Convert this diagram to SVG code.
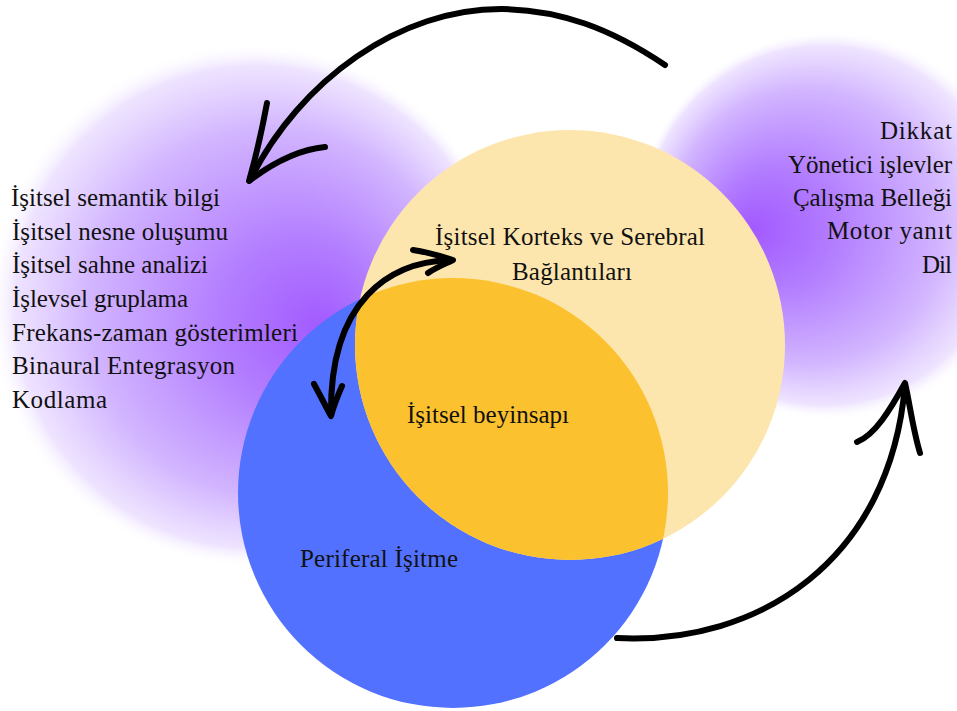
<svg xmlns="http://www.w3.org/2000/svg" width="957" height="711" viewBox="0 0 957 711">
<style>
text{font-family:"Liberation Serif","Times New Roman",serif;font-size:25px;fill:#111;}
.r{text-anchor:end;}
.m{text-anchor:middle;}
.arr{fill:none;stroke:#000;stroke-width:6;stroke-linecap:round;stroke-linejoin:round;}
</style>
<defs>
<radialGradient id="gl" gradientUnits="userSpaceOnUse" cx="250" cy="305" r="262" fx="325" fy="330">
<stop offset="0" stop-color="#a259ff"/>
<stop offset="0.3" stop-color="#b27cff"/>
<stop offset="0.7" stop-color="#d2b5ff"/>
<stop offset="0.92" stop-color="#ece0ff" stop-opacity="0.9"/>
<stop offset="1" stop-color="#ffffff" stop-opacity="0"/>
</radialGradient>
<radialGradient id="gr" gradientUnits="userSpaceOnUse" cx="830" cy="225" r="195" fx="750" fy="230">
<stop offset="0" stop-color="#a259ff"/>
<stop offset="0.3" stop-color="#b27cff"/>
<stop offset="0.7" stop-color="#d2b5ff"/>
<stop offset="0.92" stop-color="#ece0ff" stop-opacity="0.9"/>
<stop offset="1" stop-color="#ffffff" stop-opacity="0"/>
</radialGradient>
<clipPath id="cy"><circle cx="570" cy="345" r="215"/></clipPath>
</defs>
<rect width="957" height="711" fill="#fff"/>
<g id="glow-left"><circle cx="250" cy="305" r="262" fill="url(#gl)"/></g>
<g id="glow-right"><circle cx="830" cy="225" r="195" fill="url(#gr)"/></g>
<g id="peripheral">
<circle cx="453" cy="493" r="215" fill="#5271ff"/>
<text x="379" y="567" class="m" textLength="158" lengthAdjust="spacing">Periferal İşitme</text>
</g>
<g id="cortex">
<circle cx="570" cy="345" r="215" fill="#fde6ad"/>
</g>
<g id="brainstem">
<circle cx="453" cy="493" r="215" fill="#fbc12e" clip-path="url(#cy)"/>
<text x="488" y="423" class="m" textLength="162" lengthAdjust="spacing">İşitsel beyinsapı</text>
</g>
<g id="cortex-label">
<text x="570" y="245" class="m" textLength="270" lengthAdjust="spacing">İşitsel Korteks ve Serebral</text>
<text x="572" y="280" class="m" textLength="120" lengthAdjust="spacing">Bağlantıları</text>
</g>
<g id="left-list">
<text x="11" y="206" textLength="209" lengthAdjust="spacing">İşitsel semantik bilgi</text>
<text x="12" y="240" textLength="216" lengthAdjust="spacing">İşitsel nesne oluşumu</text>
<text x="12" y="273" textLength="196" lengthAdjust="spacing">İşitsel sahne analizi</text>
<text x="12" y="307" textLength="176" lengthAdjust="spacing">İşlevsel gruplama</text>
<text x="12" y="341" textLength="286" lengthAdjust="spacing">Frekans-zaman gösterimleri</text>
<text x="12" y="374" textLength="223" lengthAdjust="spacing">Binaural Entegrasyon</text>
<text x="12" y="408" textLength="95" lengthAdjust="spacing">Kodlama</text>
</g>
<g id="right-list">
<text x="952" y="139" class="r" textLength="72" lengthAdjust="spacing">Dikkat</text>
<text x="952" y="173" class="r" textLength="164" lengthAdjust="spacing">Yönetici işlevler</text>
<text x="952" y="206" class="r" textLength="159" lengthAdjust="spacing">Çalışma Belleği</text>
<text x="952" y="239" class="r" textLength="125" lengthAdjust="spacing">Motor yanıt</text>
<text x="952" y="273" class="r" textLength="30" lengthAdjust="spacing">Dil</text>
</g>
<g id="connectors">
<path class="arr" d="M665,65 C610,28 560,10 503,9 C400,8 300,80 250,180"/>
<path class="arr" d="M267,103 C262,130 255,160 249,181 C270,165 295,150 325,147"/>
<path class="arr" d="M617,638 C760,645 890,560 905,385"/>
<path class="arr" d="M857,442 C875,435 890,410 905,383 C910,405 913,430 920,453"/>
<path class="arr" d="M450,260 C390,262 330,300 331,413"/>
<path class="arr" d="M413,250 C428,252 440,256 453,260 C445,264 435,268 428,273"/>
<path class="arr" d="M314,384 C320,395 325,405 331,416 C334,405 338,395 342,386"/>
</g>
</svg>
